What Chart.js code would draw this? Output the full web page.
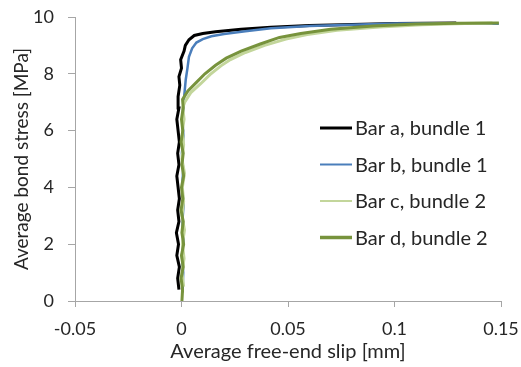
<!DOCTYPE html>
<html>
<head>
<meta charset="utf-8">
<script src="https://cdn.jsdelivr.net/npm/chart.js@4/dist/chart.umd.min.js"></script>
<style>
  html, body { margin: 0; padding: 0; background: #fff; }
  #wrap { width: 521px; height: 367px; }
</style>
</head>
<body>
<div id="wrap"><canvas id="chart" width="521" height="367"></canvas></div>
<script>
// Séries : glissement (mm) et contrainte d'adhérence (MPa)
const labels = ['Bar a, bundle 1', 'Bar b, bundle 1', 'Bar c, bundle 2', 'Bar d, bundle 2'];

const slipA = [-0.0012, -0.0018, -0.0010, -0.0022, -0.0014, -0.0024, -0.0012, -0.0018, -0.0010, -0.0016, -0.0022, -0.0012, -0.0018, -0.0010, -0.0016, -0.0022, -0.0012, -0.0016, -0.0008, -0.0012, 0.0000, -0.0004, 0.0012, 0.0018, 0.0035, 0.0060, 0.010, 0.016, 0.028, 0.042, 0.060, 0.080, 0.100, 0.129];
const stressA = [0.4, 0.8, 1.2, 1.6, 2.0, 2.4, 2.8, 3.2, 3.6, 4.0, 4.4, 4.8, 5.2, 5.6, 6.0, 6.4, 6.8, 7.2, 7.6, 7.9, 8.2, 8.5, 8.8, 9.0, 9.2, 9.35, 9.42, 9.48, 9.57, 9.64, 9.70, 9.74, 9.77, 9.79];

const slipB = [0.0005, 0.0008, 0.0002, 0.0010, 0.0004, 0.0010, 0.0003, 0.0008, 0.0002, 0.0009, 0.0004, 0.0010, 0.0015, 0.0020, 0.0028, 0.0035, 0.0050, 0.0070, 0.010, 0.014, 0.020, 0.030, 0.042, 0.060, 0.080, 0.100, 0.120, 0.140, 0.149];
const stressB = [0.3, 1.0, 1.6, 2.2, 2.8, 3.4, 4.0, 4.6, 5.2, 5.8, 6.4, 7.0, 7.4, 7.8, 8.2, 8.6, 8.9, 9.1, 9.22, 9.32, 9.4, 9.5, 9.6, 9.68, 9.73, 9.77, 9.78, 9.78, 9.76];

const slipC = [0.0010, 0.0002, 0.0012, 0.0004, 0.0014, 0.0002, 0.0010, 0.0004, 0.0014, 0.0002, 0.0010, 0.0004, 0.0012, 0.0006, 0.0015, 0.0045, 0.0090, 0.0135, 0.0185, 0.023, 0.030, 0.039, 0.049, 0.059, 0.073, 0.093, 0.113, 0.133, 0.146];
const stressC = [0.5, 1.0, 1.5, 2.0, 2.5, 3.0, 3.5, 4.0, 4.5, 5.0, 5.5, 6.0, 6.4, 6.8, 7.0, 7.35, 7.65, 7.98, 8.28, 8.5, 8.75, 9.0, 9.22, 9.38, 9.53, 9.65, 9.73, 9.77, 9.79];

const slipD = [0.0002, 0.0005, -0.0002, 0.0008, 0.0000, 0.0010, 0.0002, 0.0008, -0.0002, 0.0006, 0.0000, 0.0010, 0.0002, 0.0008, -0.0002, 0.0006, 0.0000, 0.0008, 0.0005, 0.0030, 0.0070, 0.011, 0.016, 0.021, 0.028, 0.037, 0.046, 0.056, 0.070, 0.090, 0.110, 0.130, 0.149];
const stressD = [0.0, 0.4, 0.8, 1.2, 1.6, 2.0, 2.4, 2.8, 3.2, 3.6, 4.0, 4.4, 4.8, 5.2, 5.6, 6.0, 6.4, 6.8, 7.1, 7.4, 7.7, 8.0, 8.3, 8.55, 8.8, 9.05, 9.28, 9.42, 9.57, 9.68, 9.75, 9.78, 9.79];

const toPoints = (xs, ys) => xs.map((x, i) => ({ x: x, y: ys[i] }));

const textColor = '#262626';
const axisColor = '#a6a6a6';

// Légende dessinée dans la zone du graphique, à droite
const innerLegend = {
  id: 'innerLegend',
  afterDraw(chart) {
    const ctx = chart.ctx;
    const x0 = 320, lineLen = 32, rowY = 128, rowGap = 36.5;
    ctx.save();
    ctx.font = '20px Lato';
    ctx.textBaseline = 'middle';
    chart.data.datasets.forEach((ds, i) => {
      const y = rowY + i * rowGap;
      ctx.strokeStyle = ds.borderColor;
      ctx.lineWidth = ds.legendWidth;
      ctx.beginPath();
      ctx.moveTo(x0, y);
      ctx.lineTo(x0 + lineLen, y);
      ctx.stroke();
      ctx.fillStyle = textColor;
      ctx.fillText(ds.label, x0 + lineLen + 3, y + 1);
    });
    ctx.restore();
  }
};

const ctx = document.getElementById('chart').getContext('2d');

new Chart(ctx, {
  type: 'scatter',
  data: {
    datasets: [
      { label: labels[0], data: toPoints(slipA, stressA), borderColor: '#000000', borderWidth: 3, legendWidth: 3, order: 4 },
      { label: labels[1], data: toPoints(slipB, stressB), borderColor: '#4a7ebb', borderWidth: 2.5, legendWidth: 2, order: 3 },
      { label: labels[2], data: toPoints(slipC, stressC), borderColor: '#c3d69b', borderWidth: 3, legendWidth: 2, order: 2 },
      { label: labels[3], data: toPoints(slipD, stressD), borderColor: '#77933c', borderWidth: 3, legendWidth: 3.5, order: 1 }
    ].map(ds => Object.assign(ds, { showLine: true, pointRadius: 0, fill: false, tension: 0 }))
  },
  options: {
    responsive: false,
    animation: false,
    layout: { padding: { top: 17, right: 20, left: 0, bottom: 0 } },
    plugins: {
      legend: { display: false },
      tooltip: { enabled: false }
    },
    scales: {
      x: {
        type: 'linear',
        min: -0.05,
        max: 0.15,
        ticks: {
          stepSize: 0.05,
          color: textColor,
          font: { family: 'Lato', size: 18 },
          padding: 11,
          maxRotation: 0,
          callback: v => String(Math.round(v * 100) / 100)
        },
        grid: { drawOnChartArea: false, drawTicks: true, tickLength: 6, color: axisColor },
        border: { color: axisColor },
        title: {
          display: true,
          text: 'Average free-end slip [mm]',
          color: textColor,
          font: { family: 'Lato', size: 20 },
          padding: { top: 0, bottom: 3 }
        },
        afterFit: scale => {
          scale.height = 66;
          scale.paddingLeft = 0;
          scale.paddingRight = 0;
        }
      },
      y: {
        min: 0,
        max: 10,
        ticks: {
          stepSize: 2,
          color: textColor,
          font: { family: 'Lato', size: 18 },
          padding: 14
        },
        grid: { drawOnChartArea: false, drawTicks: true, tickLength: 7, color: axisColor },
        border: { color: axisColor },
        title: {
          display: true,
          text: 'Average bond stress [MPa]',
          color: textColor,
          font: { family: 'Lato', size: 19 },
          padding: { top: 10, bottom: 0 }
        },
        afterFit: scale => {
          scale.width = 75;
          scale.paddingTop = 0;
          scale.paddingBottom = 0;
        }
      }
    }
  },
  plugins: [innerLegend]
});
</script>
</body>
</html>
